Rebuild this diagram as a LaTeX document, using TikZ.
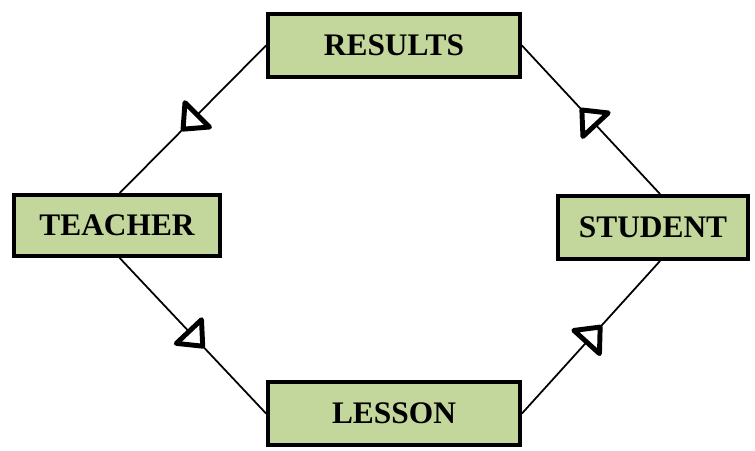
\documentclass[tikz,border=0pt]{standalone}
\usepackage{fontspec}
\setmainfont{Liberation Serif}
\usepackage{tikz}
\usetikzlibrary{arrows.meta}
\usetikzlibrary{decorations.markings}

\definecolor{boxgreen}{HTML}{C3D69B}

\begin{document}
\begin{tikzpicture}[x=0.567pt,y=-0.567pt,
				box node/.style={rectangle,fill=boxgreen,draw=black,line width=2.2pt,
					font=\fontsize{17.8}{20}\selectfont\bfseries,inner sep=0pt},
				mid arrow/.style={postaction={decorate},decoration={markings,
					mark=at position 0.58 with {\arrow{Triangle[fill=white,length=15pt,width=25pt,line width=2.8pt,round]}}}}]
				\useasboundingbox (0,0) rectangle (755,450);
				
				\node[box node,minimum width=252*0.567pt,minimum height=63*0.567pt] (R) at (394,45.5) {RESULTS};
				\node[box node,minimum width=206*0.567pt,minimum height=61*0.567pt] (T) at (117,225.5) {TEACHER};
				\node[box node,minimum width=190*0.567pt,minimum height=63*0.567pt] (S) at (653,227.5) {STUDENT};
				\node[box node,minimum width=252*0.567pt,minimum height=63*0.567pt] (L) at (394,413.5) {LESSON};
				\path[line width=1pt,every edge/.append style={mid arrow}]
				(R.west) edge ([xshift=1.5pt]T.north)
				([xshift=1.5pt]T.south) edge (L.west)
				(L.east) edge ([xshift=4pt]S.south)
				([xshift=4pt]S.north) edge (R.east);
			\end{tikzpicture}
\end{document}
